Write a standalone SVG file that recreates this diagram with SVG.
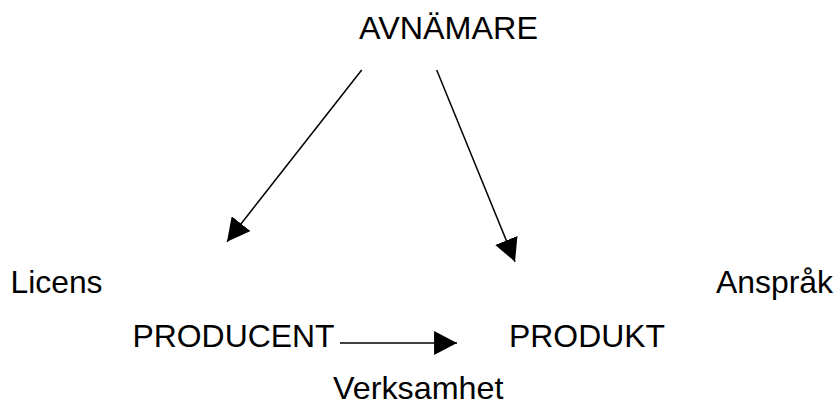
<svg xmlns="http://www.w3.org/2000/svg" width="836" height="405" viewBox="0 0 836 405">
<defs>
<style>
text{font-family:"Liberation Sans",Arial,sans-serif;font-size:30.5px;fill:#000}
.c{stroke:#000;stroke-width:1.5;fill:none}
</style>
<marker id="ah" markerUnits="userSpaceOnUse" markerWidth="24" markerHeight="24" viewBox="0 0 22 22" refX="21" refY="11" orient="auto">
<path d="M0,0 L21,11 L0,22 z" fill="#000"/>
</marker>
</defs>
<rect width="836" height="405" fill="#fff"/>
<g id="avnamare"><text x="359" y="38.5" textLength="179" lengthAdjust="spacingAndGlyphs">AVNÄMARE</text></g>
<g id="licens"><text x="10.5" y="292.7" textLength="92" lengthAdjust="spacingAndGlyphs">Licens</text></g>
<g id="ansprak"><text x="716" y="292.7" textLength="117" lengthAdjust="spacingAndGlyphs">Anspråk</text></g>
<g id="producent"><text x="132.5" y="346.8" textLength="202" lengthAdjust="spacingAndGlyphs">PRODUCENT</text></g>
<g id="produkt"><text x="509" y="347" textLength="156" lengthAdjust="spacingAndGlyphs">PRODUKT</text></g>
<g id="verksamhet"><text x="333" y="398.5" textLength="170.5" lengthAdjust="spacingAndGlyphs">Verksamhet</text></g>
<g id="connectors">
<line class="c" x1="361.7" y1="70" x2="227" y2="241.7" marker-end="url(#ah)"/>
<line class="c" x1="436.7" y1="70" x2="515" y2="261.7" marker-end="url(#ah)"/>
<line class="c" x1="340" y1="343" x2="457" y2="343" marker-end="url(#ah)"/>
</g>
</svg>
